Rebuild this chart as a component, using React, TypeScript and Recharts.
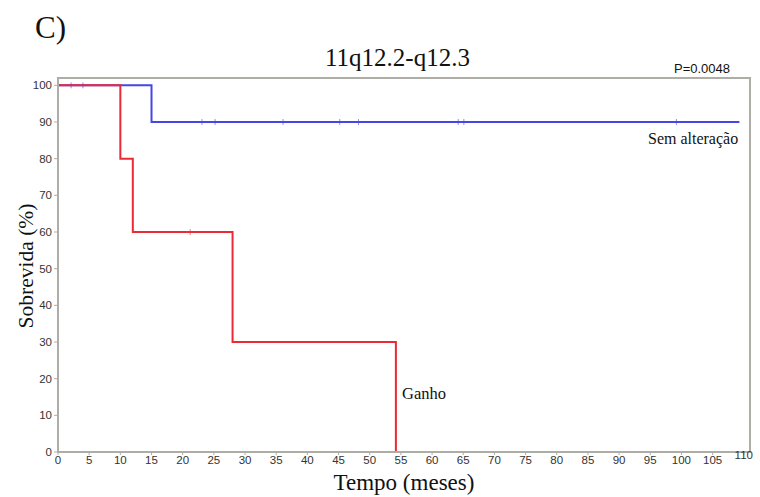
import React from "react";
import { ComposedChart, Line, XAxis, YAxis, ReferenceArea } from "recharts";

// Kaplan-Meier curves (time in months, survival %); c = censored mark
const semAlteracao = [
  { t: 0, s: 100 },
  { t: 2.1, s: 100, c: 1 },
  { t: 4.0, s: 100, c: 1 },
  { t: 15, s: 90 },
  { t: 23.1, s: 90, c: 1 },
  { t: 25.2, s: 90, c: 1 },
  { t: 36.1, s: 90, c: 1 },
  { t: 45.2, s: 90, c: 1 },
  { t: 48.2, s: 90, c: 1 },
  { t: 64.2, s: 90, c: 1 },
  { t: 65.1, s: 90, c: 1 },
  { t: 99.2, s: 90, c: 1 },
  { t: 109.3, s: 90 },
];

const ganho = [
  { t: 0, s: 100 },
  { t: 10, s: 80 },
  { t: 12, s: 60 },
  { t: 21.2, s: 60, c: 1 },
  { t: 28, s: 30 },
  { t: 54.2, s: 0 },
];

const xTicks = [0, 5, 10, 15, 20, 25, 30, 35, 40, 45, 50, 55, 60, 65, 70, 75, 80, 85, 90, 95, 100, 105, 110];
const yTicks = [0, 10, 20, 30, 40, 50, 60, 70, 80, 90, 100];

const BLUE = "#4646e6";
const RED = "#ec2a35";
const AXIS = "#aeaea6";
const SANS = "'Liberation Sans', Arial, sans-serif";
const SERIF = "'Liberation Serif', 'Times New Roman', serif";

const CensorDot = (color: string) => (props: any) => {
  const { cx, cy, payload } = props;
  if (!payload || !payload.c) return <g key={`d-${cx}-${cy}`} />;
  return <line key={`d-${cx}-${cy}`} x1={cx} x2={cx} y1={cy - 3} y2={cy + 3} stroke={color} strokeWidth={1} opacity={0.6} />;
};

const XTick = (props: any) => {
  const { x, y, payload } = props;
  const raised = payload.value === 110;
  return (
    <text x={x} y={raised ? y + 2 : y + 7} textAnchor="middle" fill="#333" fontSize={11.5} fontFamily={SANS}>
      {payload.value}
    </text>
  );
};

export default function App() {
  return (
    <div style={{ position: "absolute", left: 0, top: 0, width: 760, height: 497, background: "#fff" }}>
      <ComposedChart width={760} height={497} margin={{ top: 78, right: 10, left: 0, bottom: 25 }}>
        <XAxis
          type="number"
          dataKey="t"
          domain={[0, 111]}
          ticks={xTicks}
          interval={0}
          allowDataOverflow
          height={20}
          tick={<XTick />}
          tickSize={3}
          tickLine={{ stroke: AXIS }}
          axisLine={{ stroke: AXIS, strokeWidth: 2 }}
        />
        <YAxis
          type="number"
          dataKey="s"
          domain={[0, 102]}
          ticks={yTicks}
          interval={0}
          allowDataOverflow
          width={58}
          tickSize={4}
          tickMargin={2}
          tickLine={{ stroke: AXIS }}
          axisLine={{ stroke: AXIS, strokeWidth: 2 }}
          tick={{ fill: "#333", fontSize: 11.5, fontFamily: SANS }}
        />
        <ReferenceArea x1={0} x2={111} y1={0} y2={102} fill="none" stroke={AXIS} strokeWidth={2} ifOverflow="visible" />
        <Line
          data={semAlteracao}
          dataKey="s"
          type="stepAfter"
          stroke={BLUE}
          strokeWidth={2}
          dot={CensorDot(BLUE)}
          activeDot={false}
          isAnimationActive={false}
        />
        <Line
          data={ganho}
          dataKey="s"
          type="stepAfter"
          stroke={RED}
          strokeWidth={2}
          dot={CensorDot(RED)}
          activeDot={false}
          isAnimationActive={false}
        />
      </ComposedChart>

      <div style={{ position: "absolute", left: 35, top: 12, fontFamily: SERIF, fontSize: 31, color: "#111", lineHeight: 1 }}>C)</div>
      <div style={{ position: "absolute", left: 0, width: 795, top: 45, textAlign: "center", fontFamily: SERIF, fontSize: 25, color: "#111", lineHeight: 1 }}>
        11q12.2-q12.3
      </div>
      <div style={{ position: "absolute", left: 674, top: 62, fontFamily: SANS, fontSize: 13, color: "#111", lineHeight: 1 }}>P=0.0048</div>
      <div
        style={{
          position: "absolute",
          left: 27,
          top: 266,
          transform: "translate(-50%, -50%) rotate(-90deg)",
          whiteSpace: "nowrap",
          fontFamily: SERIF,
          fontSize: 21.5,
          color: "#111",
          lineHeight: 1,
        }}
      >
        Sobrevida (%)
      </div>
      <div style={{ position: "absolute", left: 0, width: 808, top: 471, textAlign: "center", fontFamily: SERIF, fontSize: 23, color: "#111", lineHeight: 1 }}>
        Tempo (meses)
      </div>
      <div style={{ position: "absolute", left: 648, top: 131, fontFamily: SERIF, fontSize: 16, color: "#111", lineHeight: 1 }}>Sem alteração</div>
      <div style={{ position: "absolute", left: 402, top: 386, fontFamily: SERIF, fontSize: 16.5, color: "#111", lineHeight: 1 }}>Ganho</div>
    </div>
  );
}
